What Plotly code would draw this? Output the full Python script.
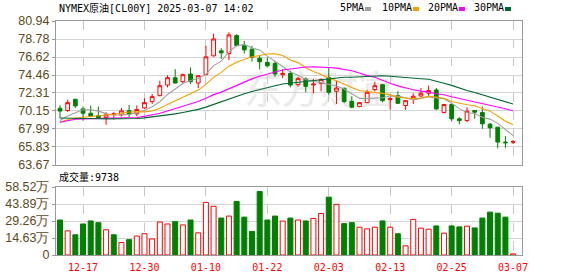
import plotly.graph_objects as go

dates = ["12-12","12-13","12-16","12-17","12-18","12-19","12-20","12-23","12-24","12-26",
         "12-27","12-30","12-31","01-02","01-03","01-06","01-07","01-08","01-09","01-10",
         "01-13","01-14","01-15","01-16","01-17","01-20","01-21","01-22","01-23","01-24",
         "01-27","01-28","01-29","01-30","01-31","02-03","02-04","02-05","02-06","02-07",
         "02-10","02-11","02-12","02-13","02-14","02-17","02-18","02-19","02-20","02-21",
         "02-24","02-25","02-26","02-27","02-28","03-03","03-04","03-05","03-06","03-07"]

opens = [70.48,70.20,71.55,70.40,69.88,69.60,69.36,69.76,69.68,70.20,
         69.80,70.52,71.27,71.99,73.26,74.14,73.66,74.58,73.50,74.50,
         76.76,77.36,77.04,79.19,78.00,77.56,76.48,75.97,75.85,74.50,
         74.66,73.30,73.98,73.26,73.46,74.18,72.51,72.86,71.31,70.68,
         71.15,72.71,73.30,71.51,71.99,70.80,71.55,71.95,72.27,72.67,
         69.96,70.92,69.21,69.01,70.20,69.96,68.57,68.21,66.42,66.42]
highs = [70.84,71.51,71.60,70.68,70.80,70.68,70.00,70.00,70.52,70.88,
         70.80,71.67,72.19,73.78,74.42,75.17,74.65,75.37,74.40,77.96,
         79.43,77.68,79.59,79.35,78.55,77.96,76.88,76.56,76.17,75.17,
         74.97,74.26,74.18,73.98,74.06,75.37,73.78,72.98,71.91,71.23,
         72.67,73.66,73.30,71.79,72.51,71.39,72.27,72.90,73.18,72.90,
         71.00,71.07,69.40,70.60,70.28,70.68,68.69,68.21,67.14,66.66]
lows = [69.27,70.04,70.52,68.97,69.40,69.20,68.49,69.13,69.48,69.40,
        69.52,70.40,70.99,71.91,72.98,73.46,73.50,73.38,72.90,74.48,
        76.70,76.40,76.24,77.96,77.04,76.08,75.13,75.37,74.26,74.06,
        72.98,73.06,72.39,72.27,72.51,72.11,70.99,71.07,70.48,70.60,
        71.07,72.51,71.19,70.28,71.00,70.28,70.99,71.79,71.87,70.28,
        69.88,68.89,68.53,68.81,69.21,68.01,66.94,65.66,65.74,66.18]
closes = [70.14,71.15,70.76,69.88,69.52,69.32,69.68,69.80,70.16,69.76,
          70.32,71.15,71.87,73.18,74.14,73.50,74.50,73.66,74.38,76.64,
          78.79,77.12,79.27,78.00,77.48,76.56,76.05,75.57,74.58,74.66,
          73.26,74.06,73.10,73.38,73.94,72.39,72.90,71.27,70.60,71.15,
          72.39,73.18,71.39,71.63,71.07,71.39,71.91,72.27,72.59,70.40,
          70.92,69.21,69.01,70.12,70.00,68.61,68.13,66.42,66.34,66.46]

# volume in 万 (10k contracts)
volumes = [30.1,20.8,17.4,26.7,29.3,27.8,21.7,17.4,10.7,13.2,
           16.3,18.3,13.8,28.4,26.7,28.7,25.9,30.1,19.1,45.3,
           41.9,31.8,33.5,46.1,32.6,20.3,54.6,30.1,33.5,29.2,
           31.8,30.1,29.3,31.5,35.7,49.8,43.6,27.0,27.8,23.9,
           22.5,23.9,29.3,23.9,18.3,7.9,30.7,23.1,22.2,25.0,
           18.8,25.0,24.2,24.8,23.3,31.8,36.9,36.0,32.6,0.9738]
vol_up = [0,1,0,0,0,0,1,0,1,0,
          1,1,1,1,1,0,1,0,1,1,
          1,0,1,0,0,0,0,0,0,1,
          0,1,0,1,1,0,1,0,0,1,
          1,1,0,1,0,1,1,1,1,0,
          1,0,0,1,0,0,0,0,0,1]

ma5 = [69.00,69.55,69.95,70.30,70.29,70.13,69.83,69.64,69.70,69.74,
       69.94,70.24,70.65,71.26,72.13,72.77,73.44,73.80,74.04,74.54,
       75.59,76.12,77.24,77.96,78.13,77.69,77.47,76.73,76.05,75.48,
       74.82,74.43,73.93,73.69,73.55,73.37,73.14,72.78,72.22,71.66,
       71.66,71.72,71.74,71.95,71.93,71.73,71.48,71.65,71.85,71.71,
       71.62,71.08,70.43,69.93,69.85,69.39,69.17,68.66,67.90,67.19]
ma10 = [68.80,69.10,69.30,69.38,69.45,69.55,69.65,69.75,69.88,70.02,
        70.04,70.04,70.15,70.48,70.94,71.36,71.84,72.22,72.65,73.33,
        74.18,74.78,75.52,76.00,76.33,76.64,76.80,76.99,77.01,76.81,
        76.26,75.95,75.33,74.87,74.52,74.10,73.78,73.35,72.96,72.61,
        72.52,72.43,72.26,72.08,71.80,71.70,71.60,71.70,71.90,71.82,
        71.68,71.28,71.04,70.89,70.78,70.50,70.13,69.54,68.92,68.52]
ma20 = [68.80,69.02,69.15,69.20,69.22,69.24,69.25,69.26,69.28,69.30,
        69.37,69.50,69.67,69.88,70.15,70.42,70.72,70.98,71.28,71.68,
        72.11,72.41,72.83,73.24,73.64,74.00,74.32,74.61,74.83,75.07,
        75.22,75.36,75.43,75.44,75.43,75.37,75.29,75.17,74.98,74.71,
        74.39,74.19,73.80,73.48,73.16,72.90,72.69,72.53,72.43,72.21,
        72.10,71.85,71.65,71.49,71.29,71.10,70.86,70.62,70.41,70.17]
ma30 = [69.30,69.30,69.30,69.30,69.28,69.22,69.20,69.20,69.20,69.22,
        69.25,69.32,69.42,69.55,69.68,69.80,69.97,70.14,70.34,70.61,
        70.95,71.24,71.60,71.92,72.22,72.49,72.74,72.98,73.18,73.39,
        73.49,73.59,73.67,73.78,73.93,74.03,74.14,74.19,74.20,74.25,
        74.32,74.39,74.37,74.32,74.22,74.15,74.06,74.01,73.95,73.75,
        73.48,73.22,72.88,72.61,72.37,72.10,71.84,71.53,71.26,70.98]

price_ticks = [63.67, 65.83, 67.99, 70.15, 72.31, 74.46, 76.62, 78.78, 80.94]
vol_ticks = [0, 14.63, 29.26, 43.89, 58.52]
date_ticks = ["12-17","12-30","01-10","01-22","02-03","02-13","02-25","03-07"]
title_text = "NYMEX原油[CL00Y] 2025-03-07 14:02"
ma_names = ["5PMA", "10PMA", "20PMA", "30PMA"]
ma_series = [ma5, ma10, ma20, ma30]

# ---- styling ----
W, H = 578, 276
PL, PR, PT, PB = 56, 522, 21, 255
MAIN_BOTTOM = 165
VOL_TOP = 187
RED = "#ff0000"
GREEN = "#008000"
MA_COLORS = ["#a0a0a0", "#f0a000", "#ff00ff", "#006633"]
GRID = "#d4d4d4"
AXIS = "#999999"
LABEL = "#5a4a1e"
MONO = "DejaVu Sans Mono, Noto Sans CJK SC, monospace"
SANS = "Liberation Sans, Arial, sans-serif"


def fx(px):
    return (px - PL) / (PR - PL)


def fy(py):
    return (PB - py) / (PB - PT)


n = len(dates)
xr = [-0.52, n + 0.16]

fig = go.Figure()

fig.add_trace(go.Candlestick(
    x=dates, open=opens, high=highs, low=lows, close=closes,
    increasing=dict(line=dict(color=RED, width=1), fillcolor="#ffffff"),
    decreasing=dict(line=dict(color=GREEN, width=1), fillcolor=GREEN),
    whiskerwidth=0, xaxis="x", yaxis="y", showlegend=False, hoverinfo="skip"))

for name, vals, col in zip(ma_names, ma_series, MA_COLORS):
    fig.add_trace(go.Scatter(
        x=dates, y=vals, mode="lines", name=name,
        line=dict(color=col, width=1.1),
        xaxis="x", yaxis="y", showlegend=False, hoverinfo="skip"))

fig.add_trace(go.Bar(
    x=dates, y=volumes, width=0.65,
    marker=dict(color=["#ffffff" if u else GREEN for u in vol_up],
                line=dict(color=[RED if u else GREEN for u in vol_up], width=1)),
    xaxis="x2", yaxis="y2", showlegend=False, hoverinfo="skip"))

axis_common = dict(showline=True, mirror=True, linecolor=AXIS, linewidth=1,
                   zeroline=False, automargin=False)

fig.update_layout(
    width=W, height=H,
    margin=dict(l=PL, r=W - PR, t=PT, b=H - PB, pad=0),
    paper_bgcolor="#ffffff", plot_bgcolor="#ffffff",
    boxgap=0.3,
    xaxis=dict(domain=[0, 1], anchor="y", type="category",
               categoryorder="array", categoryarray=dates,
               range=xr, showticklabels=False, tickvals=date_ticks,
               showgrid=True, gridcolor="#c8c8c8", griddash="dash", gridwidth=1,
               ticks="", rangeslider=dict(visible=False), **axis_common),
    yaxis=dict(domain=[fy(MAIN_BOTTOM), 1], anchor="x",
               range=[price_ticks[0], price_ticks[-1]],
               tickvals=price_ticks, ticktext=[f"{v:.2f}" for v in price_ticks],
               tickfont=dict(family=SANS, size=12.5, color=LABEL),
               ticks="outside", ticklen=3, tickcolor=AXIS,
               showgrid=True, gridcolor=GRID, gridwidth=1, **axis_common),
    xaxis2=dict(domain=[0, 1], anchor="y2", type="category",
                categoryorder="array", categoryarray=dates,
                range=xr, tickvals=date_ticks, ticktext=date_ticks,
                tickfont=dict(family=MONO, size=10, color=RED),
                ticks="outside", ticklen=3, tickcolor="rgba(0,0,0,0)",
                showgrid=True, gridcolor="#c8c8c8", griddash="dash", gridwidth=1,
                **axis_common),
    yaxis2=dict(domain=[0, fy(VOL_TOP)], anchor="x2",
                range=[vol_ticks[0], vol_ticks[-1]],
                tickvals=vol_ticks,
                ticktext=["0"] + [f"{v:.2f}万" for v in vol_ticks[1:]],
                tickfont=dict(family=SANS, size=12.5, color=LABEL),
                ticks="outside", ticklen=3, tickcolor=AXIS,
                showgrid=True, gridcolor=GRID, gridwidth=1, **axis_common),
)

# watermark (below traces)
fig.add_shape(type="rect", xref="paper", yref="paper",
              x0=fx(235), x1=fx(405), y0=fy(114), y1=fy(70),
              line=dict(width=0), fillcolor="rgba(0,0,0,0)", layer="below",
              label=dict(text="东方财富", font=dict(family="Noto Sans CJK SC", size=38,
                                                  color="#ebebeb"),
                         textposition="middle center"))

annotations = []
annotations.append(dict(xref="paper", yref="paper", x=fx(57), y=fy(8),
                        xanchor="left", yanchor="middle", showarrow=False,
                        text=title_text, font=dict(family=MONO, size=10, color="#000000")))
annotations.append(dict(xref="paper", yref="paper", x=fx(57), y=fy(177),
                        xanchor="left", yanchor="middle", showarrow=False,
                        text=f"成交量:{round(volumes[-1] * 10000)}",
                        font=dict(family=MONO, size=10, color="#000000")))

legend_x = [338, 380, 426, 472]
sq_x = [365, 413, 459, 505]
for name, lx, sx, col in zip(ma_names, legend_x, sq_x, MA_COLORS):
    annotations.append(dict(xref="paper", yref="paper", x=fx(lx), y=fy(8),
                            xanchor="left", yanchor="middle", showarrow=False,
                            text=name, font=dict(family=MONO, size=10, color="#000000")))
    fig.add_shape(type="rect", xref="paper", yref="paper",
                  x0=fx(sx), x1=fx(sx + 6), y0=fy(11), y1=fy(7),
                  line=dict(width=0), fillcolor=col)

fig.update_layout(annotations=annotations)

fig.write_html("out.html")
